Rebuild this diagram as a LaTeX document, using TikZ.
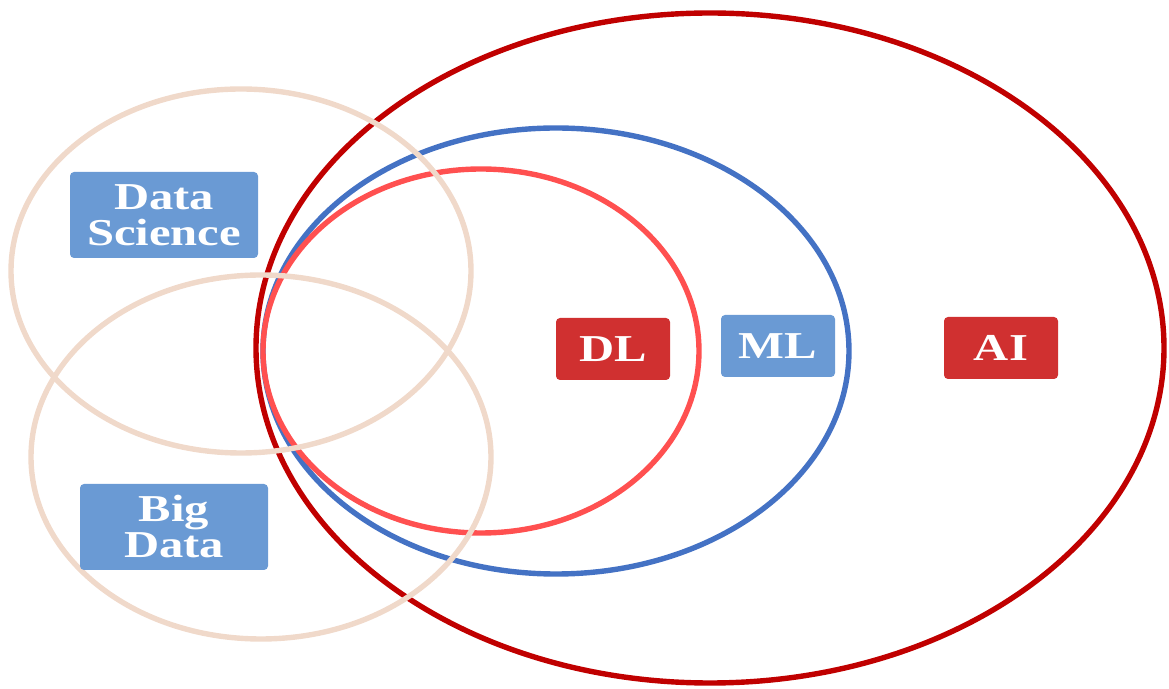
\documentclass[tikz,border=0pt]{standalone}
\usepackage{fontspec}
\setmainfont{Liberation Serif}
\newfontfamily\tagfont{Liberation Serif}[FakeStretch=1.28]
\definecolor{aired}{HTML}{C00000}
\definecolor{dlred}{HTML}{FF5050}
\definecolor{mlblue}{HTML}{4472C4}
\definecolor{ringbeige}{HTML}{F0D9CA}
\definecolor{boxblue}{HTML}{6A9AD4}
\definecolor{boxred}{HTML}{D03030}
\tikzset{
  tag/.style={rounded corners=2pt, text=white, align=center,
    font=\tagfont\fontsize{19}{18}\selectfont\bfseries, inner sep=0pt},
  bluetag/.style={tag, fill=boxblue, minimum width=94pt, minimum height=43pt},
  redtag/.style={tag, fill=boxred, minimum width=57pt, minimum height=31pt},
  ring/.style={line width=2.7pt}
}
\begin{document}
\begin{tikzpicture}[x=0.5pt, y=-0.5pt]
  \useasboundingbox (0,0) rectangle (1169,689);
  % Nested sets
  \draw[ring, aired] (710,348) ellipse [x radius=454, y radius=335];
  \draw[ring, mlblue] (556,351) ellipse [x radius=293, y radius=223];
  \draw[ring, dlred] (481,351) ellipse [x radius=218, y radius=182];
  % Overlapping fields
  \draw[ring, ringbeige] (241,271) ellipse [x radius=230, y radius=182];
  \draw[ring, ringbeige] (261,457) ellipse [x radius=230, y radius=182];
  % Labels
  \node[bluetag] (ds) at (164,215) {Data\\Science};
  \node[bluetag] (bd) at (174,527) {Big\\Data};
  \node[redtag] (dl) at (613,349) {DL};
  \node[bluetag, minimum width=57pt, minimum height=31pt] (ml) at (778,346) {ML};
  \node[redtag] (ai) at (1001,348) {AI};
\end{tikzpicture}
\end{document}
